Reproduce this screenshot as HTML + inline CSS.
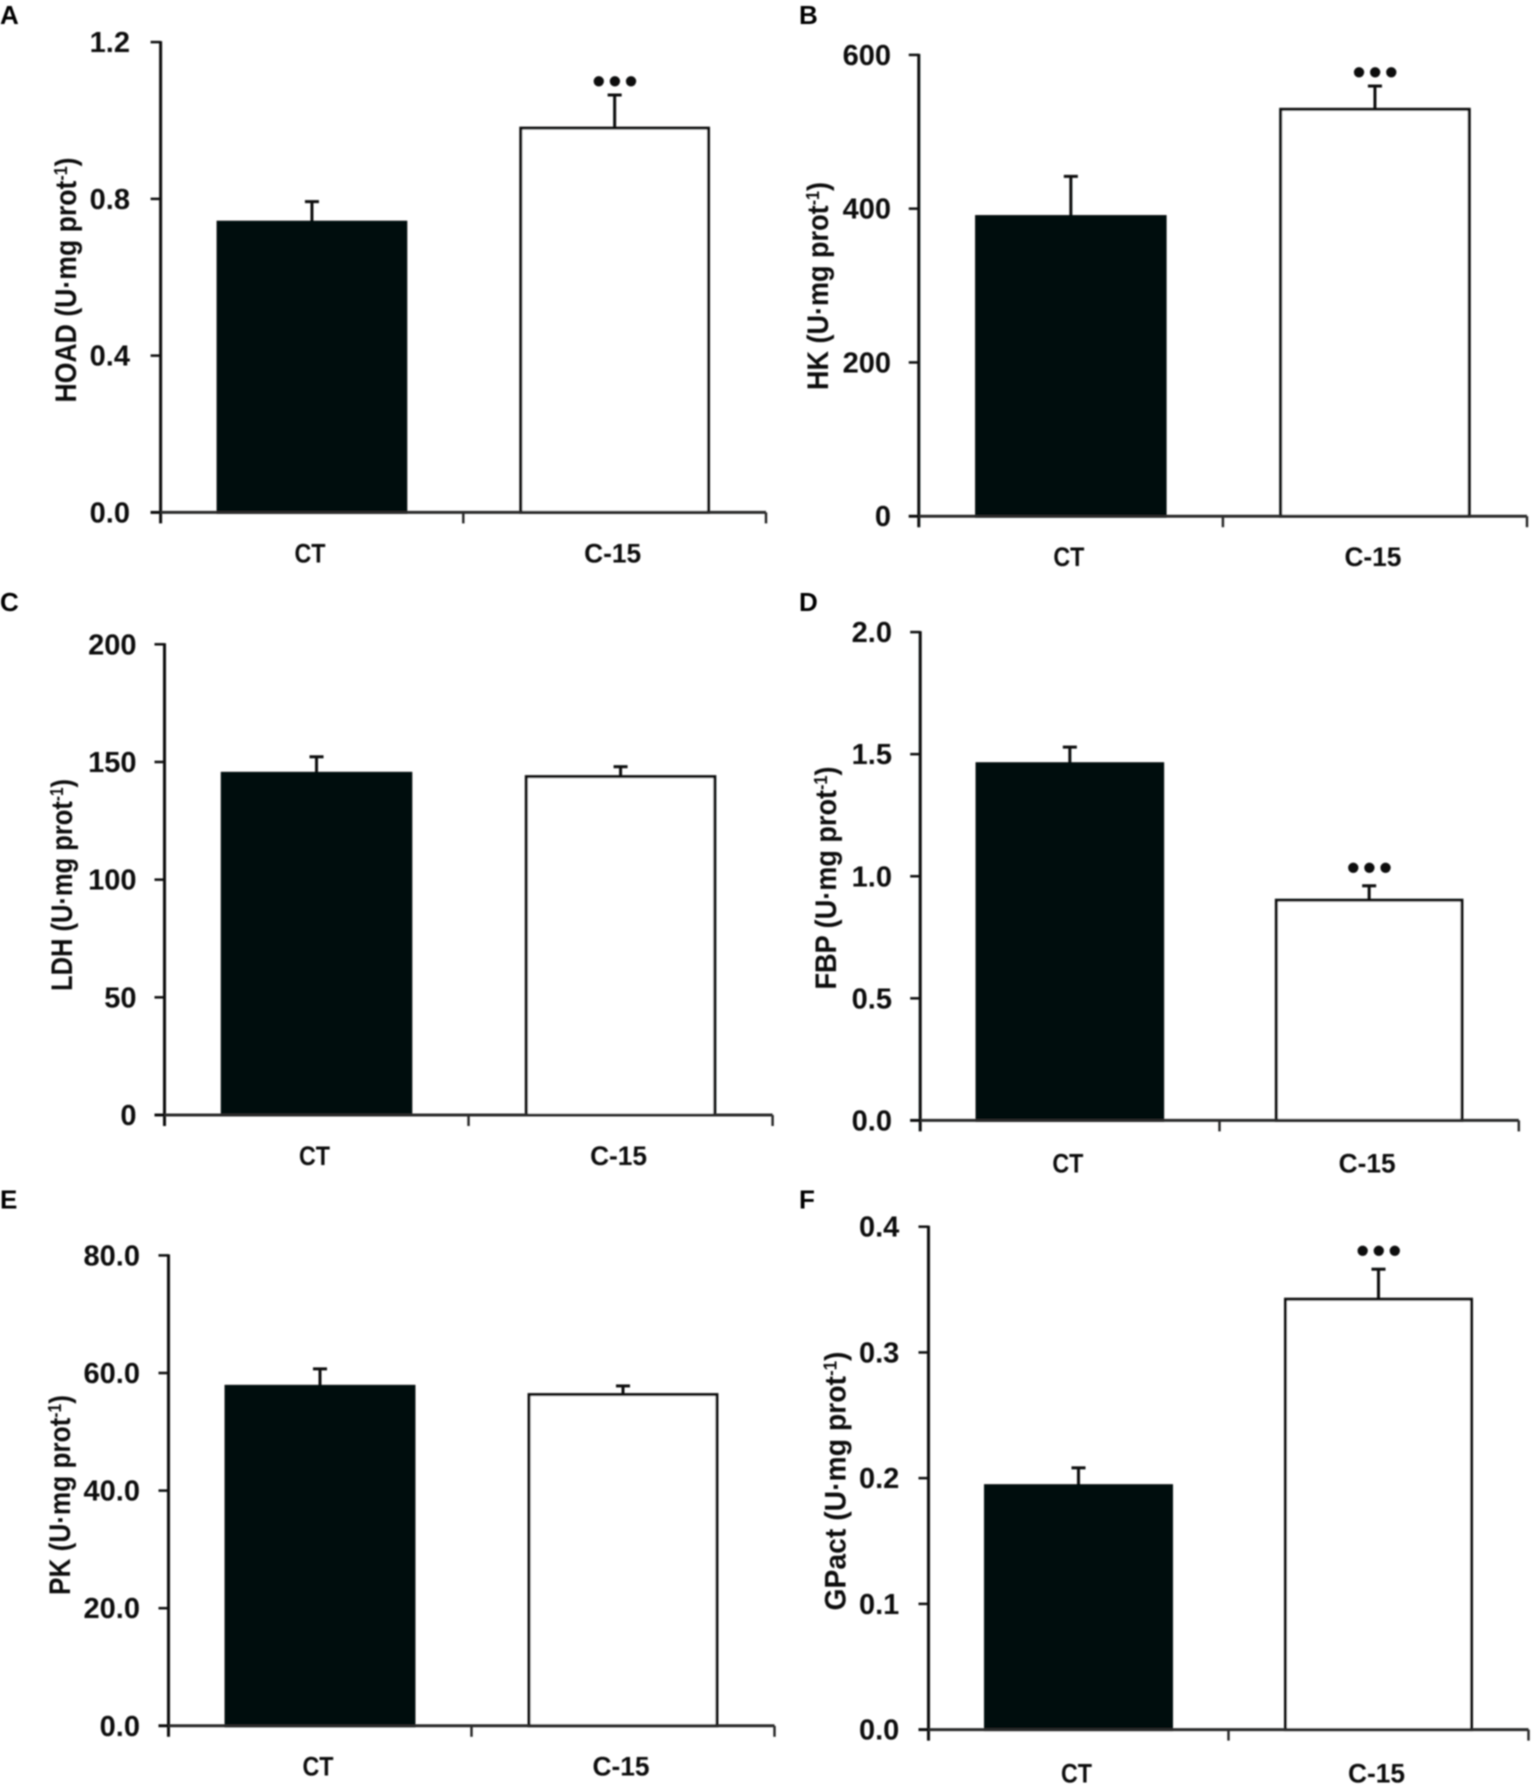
<!DOCTYPE html>
<html lang="en">
<head>
<meta charset="utf-8">
<title>Enzyme activity bar charts</title>
<style>
  html,body{margin:0;padding:0;background:#fff;width:1535px;height:1790px;overflow:hidden}
  svg{display:block;font-family:"Liberation Sans",sans-serif}
</style>
</head>
<body>
<svg id="figure" xmlns="http://www.w3.org/2000/svg" width="1535" height="1790" viewBox="0 0 1535 1790">
  <defs>
    <filter id="soft" x="-2%" y="-2%" width="104%" height="104%"><feGaussianBlur stdDeviation="0.7"/></filter>
  </defs>
  <rect width="1535" height="1790" fill="#fff"/>
  <g id="plots" filter="url(#soft)"></g>
</svg>
<script>
const categories = ['CT', 'C-15'];

const hoadValues = [0.743, 0.983];
const hoadErrors = [0.050, 0.082];
const hoadTicks = [0, 0.4, 0.8, 1.2];
const hoadTickLabels = ['0.0', '0.4', '0.8', '1.2'];
const hoadStars = ['', '•••'];

const hkValues = [391, 530.5];
const hkErrors = [51, 29];
const hkTicks = [0, 200, 400, 600];
const hkTickLabels = ['0', '200', '400', '600'];
const hkStars = ['', '•••'];

const ldhValues = [145.6, 144.2];
const ldhErrors = [6.6, 3.8];
const ldhTicks = [0, 50, 100, 150, 200];
const ldhTickLabels = ['0', '50', '100', '150', '200'];
const ldhStars = ['', ''];

const fbpValues = [1.465, 0.906];
const fbpErrors = [0.064, 0.055];
const fbpTicks = [0, 0.5, 1.0, 1.5, 2.0];
const fbpTickLabels = ['0.0', '0.5', '1.0', '1.5', '2.0'];
const fbpStars = ['', '•••'];

const pkValues = [57.9, 56.5];
const pkErrors = [2.8, 1.3];
const pkTicks = [0, 20, 40, 60, 80];
const pkTickLabels = ['0.0', '20.0', '40.0', '60.0', '80.0'];
const pkStars = ['', ''];

const gpactValues = [0.1948, 0.3431];
const gpactErrors = [0.0134, 0.0231];
const gpactTicks = [0, 0.1, 0.2, 0.3, 0.4];
const gpactTickLabels = ['0.0', '0.1', '0.2', '0.3', '0.4'];
const gpactStars = ['', '•••'];

const NS = 'http://www.w3.org/2000/svg';
const root = document.getElementById('plots');

function make(tag, name, parent, attrs) {
  const el = document.createElementNS(NS, tag);
  
  
  for (const k in attrs) el.setAttribute(k, attrs[k]);
  parent.appendChild(el);
  return el;
}

function drawPanel(p) {
  const g = make('g', 'panel-' + p.letter.toLowerCase(), root, {});
  const yMax = p.ticks[p.ticks.length - 1];
  const yScale = v => p.zero - (v / yMax) * (p.zero - p.top);
  const band = (p.right - p.left) / categories.length;
  const xCenter = i => p.left + band * (i + 0.5);
  const barW = band * 0.62;
  const ink = '#0a0c0c';

  const letter = make('text', 'panel-label-' + p.letter.toLowerCase(), g, {
    x: p.letterX, y: p.letterY, 'font-size': 26, 'font-weight': 'bold', fill: '#000'
  });
  letter.textContent = p.letter;

  // bars and error bars
  categories.forEach((c, i) => {
    const yTop = yScale(p.values[i]) + 1;
    const yErr = yScale(p.values[i] + p.errors[i]);
    const x = xCenter(i);
    make('line', 'error-bar-' + c.toLowerCase(), g, {
      x1: x, x2: x, y1: yTop, y2: yErr, stroke: ink, 'stroke-width': 3
    });
    make('line', 'error-cap-' + c.toLowerCase(), g, {
      x1: x - 7, x2: x + 7, y1: yErr, y2: yErr, stroke: ink, 'stroke-width': 3
    });
    make('rect', 'bar-' + c.toLowerCase(), g, {
      x: x - barW / 2, y: yTop, width: barW, height: p.zero - yTop,
      fill: i === 0 ? '#050808' : '#fff',
      stroke: i === 0 ? '#050808' : ink, 'stroke-width': 3
    });
    if (p.stars[i]) {
      const s = make('text', 'significance-' + c.toLowerCase(), g, {
        x: x + 2, y: yErr - p.starGap + 13, 'font-size': 36, 'font-weight': 'bold',
        'text-anchor': 'middle', 'letter-spacing': 3.5, fill: ink
      });
      s.textContent = p.stars[i];
    }
    const label = make('text', 'category-label-' + c.toLowerCase(), g, {
      x: x - 2, y: p.catY, 'font-size': 27, 'font-weight': 'bold',
      'text-anchor': 'middle', fill: '#111',
      textLength: i === 0 ? 31 : 57, lengthAdjust: 'spacingAndGlyphs'
    });
    label.textContent = c;
  });

  // axes
  make('line', 'y-axis-line', g, {
    x1: p.left, x2: p.left, y1: p.top - 1, y2: p.zero + 11, stroke: ink, 'stroke-width': 3
  });
  make('line', 'x-axis-line', g, {
    x1: p.left - 10, x2: p.right, y1: p.zero, y2: p.zero, stroke: '#2a2c2c', 'stroke-width': 3
  });
  for (let i = 1; i <= categories.length; i++) {
    const tx = p.left + band * i;
    make('line', 'x-axis-tick', g, {
      x1: tx, x2: tx, y1: p.zero, y2: p.zero + 11, stroke: '#2a2c2c', 'stroke-width': 2.5
    });
  }
  p.ticks.forEach((t, i) => {
    const ty = yScale(t);
    make('line', 'y-axis-tick', g, {
      x1: p.left - 10, x2: p.left, y1: ty, y2: ty, stroke: ink, 'stroke-width': 2.5
    });
    const lab = make('text', 'y-tick-label', g, {
      x: p.labelX, y: ty + 10, 'font-size': 29, 'font-weight': 'bold',
      'text-anchor': 'end', fill: '#111'
    });
    lab.textContent = p.tickLabels[i];
  });

  // y-axis title
  const title = make('text', 'y-axis-title', g, {
    transform: 'translate(' + p.titleX + ',' + p.titleY + ') rotate(-90)',
    'font-size': 30, 'font-weight': 'bold', 'text-anchor': 'middle', fill: '#111',
    textLength: p.titleLen, lengthAdjust: 'spacingAndGlyphs'
  });
  title.appendChild(document.createTextNode(p.title + ' (U·mg prot'));
  const sup = make('tspan', 'y-axis-title-exponent', title, { dy: -9, 'font-size': 18 });
  sup.textContent = '-1';
  const close = make('tspan', 'y-axis-title-close', title, { dy: 9 });
  close.textContent = ')';
}

drawPanel({ letter: 'A', title: 'HOAD', values: hoadValues, errors: hoadErrors, ticks: hoadTicks, tickLabels: hoadTickLabels, stars: hoadStars,
  left: 160.6, right: 766, top: 42.1, zero: 512.4, labelX: 130, catY: 562.5, titleX: 76, titleY: 280, titleLen: 245, letterX: 0, letterY: 24, starGap: 15 });
drawPanel({ letter: 'B', title: 'HK', values: hkValues, errors: hkErrors, ticks: hkTicks, tickLabels: hkTickLabels, stars: hkStars,
  left: 918.8, right: 1527, top: 54.9, zero: 516.2, labelX: 891, catY: 566, titleX: 828, titleY: 286, titleLen: 208, letterX: 799, letterY: 24, starGap: 15 });
drawPanel({ letter: 'C', title: 'LDH', values: ldhValues, errors: ldhErrors, ticks: ldhTicks, tickLabels: ldhTickLabels, stars: ldhStars,
  left: 164.5, right: 772.6, top: 644.3, zero: 1115, labelX: 136.5, catY: 1165, titleX: 72, titleY: 885, titleLen: 212, letterX: 0, letterY: 611, starGap: 15 });
drawPanel({ letter: 'D', title: 'FBP', values: fbpValues, errors: fbpErrors, ticks: fbpTicks, tickLabels: fbpTickLabels, stars: fbpStars,
  left: 920.2, right: 1518.8, top: 632.1, zero: 1120.4, labelX: 892, catY: 1172.5, titleX: 836, titleY: 878, titleLen: 223, letterX: 799, letterY: 611, starGap: 19.5 });
drawPanel({ letter: 'E', title: 'PK', values: pkValues, errors: pkErrors, ticks: pkTicks, tickLabels: pkTickLabels, stars: pkStars,
  left: 168.5, right: 774.5, top: 1255.4, zero: 1725.8, labelX: 140, catY: 1775.5, titleX: 70, titleY: 1495, titleLen: 200, letterX: 0, letterY: 1208.5, starGap: 15 });
drawPanel({ letter: 'F', title: 'GPact', values: gpactValues, errors: gpactErrors, ticks: gpactTicks, tickLabels: gpactTickLabels, stars: gpactStars,
  left: 928.5, right: 1528.5, top: 1226.7, zero: 1729.6, labelX: 899.3, catY: 1782.4, titleX: 845.5, titleY: 1481, titleLen: 259, letterX: 799, letterY: 1208.5, starGap: 19.5 });
</script>
</body>
</html>
